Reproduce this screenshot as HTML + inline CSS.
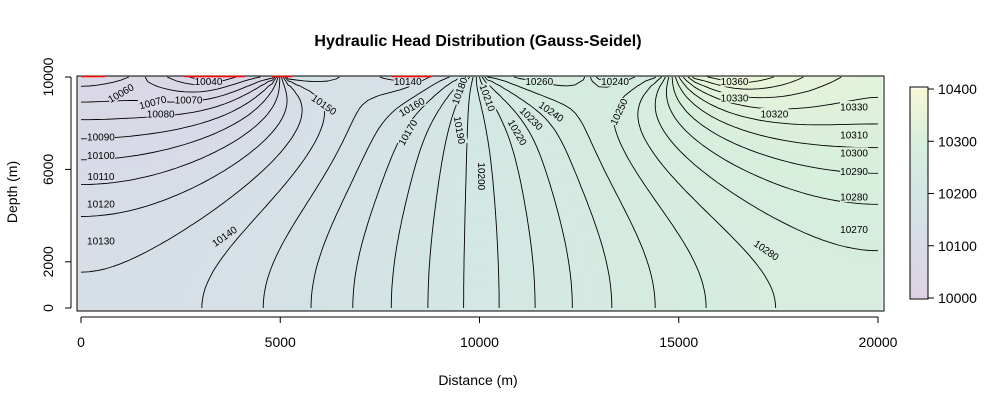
<!DOCTYPE html>
<html><head><meta charset="utf-8"><style>
body{margin:0;background:#fff;}
svg{display:block;font-family:"Liberation Sans",Arial,sans-serif;}
</style></head><body>
<svg id="c" width="998" height="406" viewBox="0 0 998 406"></svg>
<script>
// ---- data ----
const topX = [0, 1500, 3000, 4800, 5200, 6500, 8000, 9500, 9900, 10200, 11000, 12500, 13000, 14500, 15000, 15400, 16500, 18500, 20000];
const topH = [10052, 10062, 10035, 10065, 10160, 10150, 10135, 10165, 10205, 10250, 10262, 10270, 10235, 10260, 10320, 10355, 10372, 10345, 10332];
const levels = []; for (let v = 10000; v <= 10400; v += 10) levels.push(v);
const xTicks = [0, 5000, 10000, 15000, 20000];
const yTicks = [0, 2000, 6000, 10000];
const cbTicks = [10000, 10100, 10200, 10300, 10400];
const redSegs = [[0, 600], [2600, 4100], [4800, 5300], [7800, 8800]];
const labVals = [10060,10070,10040,10070,10080,10090,10100,10110,10120,10130,10140,10150,10140,10160,10170,10180,10190,10200,10210,10220,10230,10240,10260,10240,10250,10360,10330,10320,10330,10310,10300,10290,10280,10270,10280];
const labX = [1000,1800,3200,2700,2000,500,500,500,500,500,3600,6100,8200,8300,8200,9500,9500,10050,10200,10950,11300,11800,11500,13400,13500,16400,16400,17400,19400,19400,19400,19400,19400,19400,17200];
const labY = [9300,8900,9800,9000,8400,7400,6600,5700,4500,2900,3100,8800,9800,8700,7600,9400,7700,5700,9100,7600,8200,8500,9800,9800,8500,9800,9100,8400,8700,7500,6700,5900,4800,3400,2500];
const labRot = [-30,-15,0,0,0,0,0,0,0,0,-35,35,0,-30,-60,-70,80,90,70,60,45,35,0,0,-65,0,0,0,0,0,0,0,0,0,35];

// ---- axes ----
const X0 = 81, X1 = 878, Y0 = 308, Y1 = 77;
const sx = x => X0 + (x / 20000) * (X1 - X0);
const sy = y => Y0 - (y / 10000) * (Y0 - Y1);
const CB0 = 298, CB1 = 89;
const scb = v => CB0 - (v - 10000) / 400 * (CB0 - CB1);

const svg = document.getElementById('c');
const NS = 'http://www.w3.org/2000/svg';
function mk(tag, at, parent) { const e = document.createElementNS(NS, tag); for (const k in at) e.setAttribute(k, at[k]); (parent || svg).appendChild(e); return e; }

const pal = [[10000,[221,211,227]],[10100,[216,219,231]],[10200,[211,231,228]],[10300,[215,239,221]],[10400,[246,247,214]]];
function col(v) {
  v = Math.max(10000, Math.min(10400, v));
  for (let i = 0; i < pal.length - 1; i++) {
    if (v <= pal[i + 1][0]) { const t = (v - pal[i][0]) / (pal[i + 1][0] - pal[i][0]); const a = pal[i][1], b = pal[i + 1][1];
      return 'rgb(' + a.map((c, k) => Math.round(c + (b[k] - c) * t)).join(',') + ')'; }
  }
  return 'rgb(246,247,214)';
}
function topHead(x) {
  for (let i = 0; i < topX.length - 1; i++) if (x <= topX[i + 1]) { const t = (x - topX[i]) / (topX[i + 1] - topX[i]); return topH[i] + (topH[i + 1] - topH[i]) * t; }
  return topH[topH.length - 1];
}

// ---- solve anisotropic Laplace (SOR) ----
const NX = 101, NY = 51, D = 200;
const AX = 1, AY = 1.25;
const H = []; for (let j = 0; j < NY; j++) { H.push(new Float64Array(NX).fill(10200)); }
for (let i = 0; i < NX; i++) H[NY - 1][i] = topHead(i * D);
for (let it = 0; it < 3000; it++) {
  for (let j = 0; j < NY - 1; j++) {
    for (let i = 0; i < NX; i++) {
      const l = H[j][i > 0 ? i - 1 : 1], r = H[j][i < NX - 1 ? i + 1 : NX - 2];
      const d = H[j > 0 ? j - 1 : 1][i], u = H[j + 1][i];
      const nv = (AX * (l + r) + AY * (d + u)) / (2 * AX + 2 * AY);
      H[j][i] += 1.9 * (nv - H[j][i]);
    }
  }
}

// ---- fill ----
const gFill = mk('g', { });
const cw = (X1 - X0) / (NX - 1), ch = (Y0 - Y1) / (NY - 1);
for (let j = 0; j < NY; j++) for (let i = 0; i < NX; i++) {
  const x = sx(i * D) - cw / 2, y = sy(j * D) - ch / 2;
  const xa = Math.max(77, x), ya = Math.max(76, y), xb = Math.min(884, x + cw + 0.6), yb = Math.min(311, y + ch + 0.6);
  const r = mk('rect', {x: xa, y: ya, width: xb - xa, height: yb - ya, fill: col(H[j][i])}, gFill);
  
  
}

// ---- contours ----
const gC = mk('g', {  stroke: '#000', 'stroke-width': 0.9, fill: 'none'});
let dstr = '';
for (const L of levels) {
  for (let j = 0; j < NY - 1; j++) for (let i = 0; i < NX - 1; i++) {
    const v = [H[j][i], H[j][i + 1], H[j + 1][i + 1], H[j + 1][i]];
    const p = [[i, j], [i + 1, j], [i + 1, j + 1], [i, j + 1]];
    const pts = [];
    for (let k = 0; k < 4; k++) {
      const a = v[k], b = v[(k + 1) % 4];
      if ((a < L) !== (b < L)) { const t = (L - a) / (b - a); const pa = p[k], pb = p[(k + 1) % 4];
        pts.push([sx((pa[0] + (pb[0] - pa[0]) * t) * D), sy((pa[1] + (pb[1] - pa[1]) * t) * D)]); }
    }
    for (let k = 0; k + 1 < pts.length; k += 2) dstr += 'M' + pts[k][0].toFixed(1) + ' ' + pts[k][1].toFixed(1) + 'L' + pts[k + 1][0].toFixed(1) + ' ' + pts[k + 1][1].toFixed(1);
  }
}
mk('path', {d: dstr,  }, gC);

// ---- contour labels ----
const gL = mk('g', {  'font-size': 10, 'text-anchor': 'middle'});
labVals.forEach((v, k) => {
  const x = sx(labX[k]), y = sy(labY[k]);
  const jj = Math.round(labY[k] / D), ii = Math.round(labX[k] / D);
  const g = mk('g', {transform: 'translate(' + x + ',' + y + ') rotate(' + labRot[k] + ')'}, gL);
  
  
  mk('rect', {x: -14, y: -6, width: 28, height: 11, fill: col(H[Math.min(NY - 1, jj)][Math.min(NX - 1, ii)])}, g);
  const t = mk('text', {x: 0, y: 3.5, fill: '#000'}, g); t.textContent = v;
});

// box
mk('rect', {x: 77, y: 76, width: 807, height: 235, fill: 'none', stroke: '#000', 'stroke-width': 1,  });

// red segments at top
redSegs.forEach(s => {
  const l = mk('line', {x1: sx(s[0]), x2: sx(s[1]), y1: 76.5, y2: 76.5, stroke: '#ff0000', 'stroke-width': 1.6});
  
  
});

// axes ticks
const gx = mk('g', {  'font-size': 14, 'text-anchor': 'middle'});
mk('line', {x1: sx(0), x2: sx(20000), y1: 317, y2: 317, stroke: '#000'}, gx);
xTicks.forEach(v => { mk('line', {x1: sx(v), x2: sx(v), y1: 317, y2: 323, stroke: '#000'}, gx);
  const t = mk('text', {x: sx(v), y: 347}, gx); t.textContent = v;
    });
const gy = mk('g', {  'font-size': 14, 'text-anchor': 'middle'});
mk('line', {x1: 71, x2: 71, y1: sy(0), y2: sy(10000), stroke: '#000'}, gy);
yTicks.forEach(v => { mk('line', {x1: 65, x2: 71, y1: sy(v), y2: sy(v), stroke: '#000'}, gy);
  const t = mk('text', {x: 0, y: 0, transform: 'translate(53,' + sy(v) + ') rotate(-90)'}, gy); t.textContent = v;
    });

// colorbar
const gcb = mk('g', { });
for (let v = 10000; v < 10400; v += 2) mk('rect', {x: 910, y: scb(v + 2) - 0.3, width: 18, height: (CB0 - CB1) / 200 + 0.6, fill: col(v + 1)}, gcb);
mk('rect', {x: 910, y: 87, width: 18, height: 212, fill: 'none', stroke: '#000'}, gcb);
cbTicks.forEach(v => { mk('line', {x1: 928, x2: 934, y1: scb(v), y2: scb(v), stroke: '#000'}, gcb);
  const t = mk('text', {x: 938, y: scb(v) + 5, 'font-size': 14}, gcb); t.textContent = v;
    });

// titles
let t = mk('text', {x: 478, y: 46, 'font-size': 16, 'font-weight': 'bold', 'text-anchor': 'middle',  }); t.textContent = 'Hydraulic Head Distribution (Gauss-Seidel)';
t = mk('text', {x: 478, y: 385, 'font-size': 14, 'text-anchor': 'middle',  }); t.textContent = 'Distance (m)';
t = mk('text', {x: 0, y: 0, 'font-size': 14, 'text-anchor': 'middle', transform: 'translate(17,192) rotate(-90)',  }); t.textContent = 'Depth (m)';
</script>
</body></html>
